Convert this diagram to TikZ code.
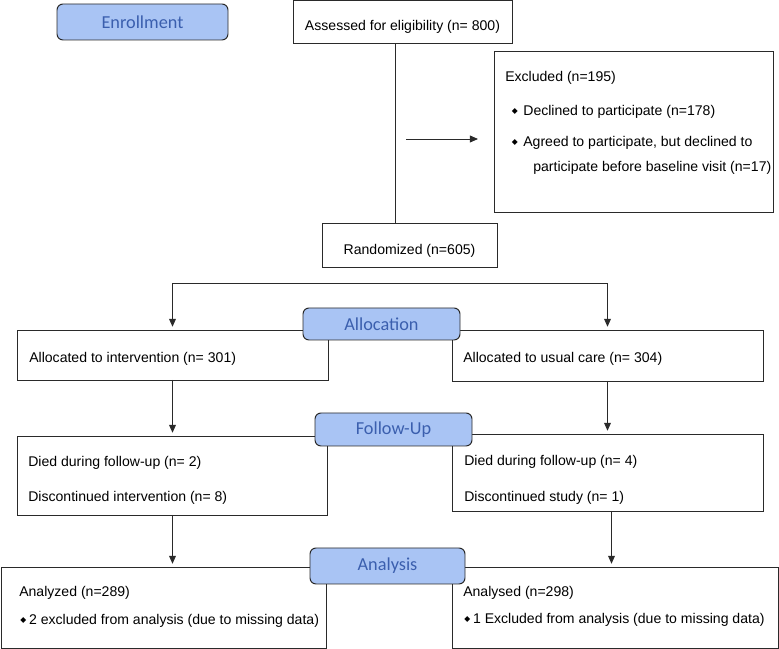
\documentclass[tikz,border=0pt]{standalone}
\usepackage{fontspec}
\setmainfont{Liberation Sans}
\newfontfamily\phasefont{Carlito}
\newfontfamily\symfont{DejaVu Sans}
\usetikzlibrary{arrows.meta}
\definecolor{phasefill}{HTML}{A9C4F4}
\definecolor{phasetext}{HTML}{3B5FAE}
\definecolor{edge}{HTML}{2A2A2A}
\newcommand{\dmd}{\raisebox{1.8pt}{\symfont\fontsize{5.5}{5.5}\selectfont\char"25C6}}

\tikzset{
  box/.style 2 args={draw=edge, line width=0.7pt, outer sep=0pt, inner sep=0pt,
    minimum width=#1*0.025cm, minimum height=#2*0.025cm},
  phase/.style 2 args={box={#1}{#2}, rounded corners=0.15cm, fill=phasefill,
    text=phasetext, font=\phasefont\fontsize{13pt}{15pt}\selectfont},
  txt/.style={inner sep=0pt, anchor=west, font=\fontsize{10pt}{12pt}\selectfont},
  link/.style={draw=edge, line width=0.7pt},
  arr/.style={link, -{Triangle[length=0.2cm,width=0.17cm]}, shorten >=0.08cm},
}

\begin{document}
\begin{tikzpicture}[x=0.025cm, y=-0.025cm]
\useasboundingbox (0,0) rectangle (779,649);

% Enrollment
\node[box={219}{42.5}] (assess) at (402.5,21.8) {};
\node[txt, anchor=center] (assesst) at (402.5,27) {Assessed for eligibility (n= 800)};

\node[box={279}{161}] (excl) at (633.5,131.5) {};
\node[txt] (exclt) at (505,78) {Excluded (n=195)};
\node[txt] (exclb) at (511.5,112) {\dmd\hspace{4pt}Declined to participate (n=178)};
\node[txt] (exclc) at (511.5,143) {\dmd\hspace{4pt}Agreed to participate, but declined to};
\node[txt] (excld) at (533,168) {participate before baseline visit (n=17)};

\node[box={175}{44}] (rand) at (409.5,245) {};
\node[txt, anchor=center] (randt) at (409.5,251) {Randomized (n=605)};

\draw[link] ([xshift=-0.1875cm]assess.south) -- ([xshift=-0.1875cm]assess.south |- rand.north);
\coordinate (tap) at (395,139);
\draw[arr, shorten <=0.275cm, shorten >=0.4cm] (tap) -- (tap -| excl.west);

% Allocation
\coordinate (split) at (395,283);
\node[box={311}{50}] (intv) at (172.5,355) {};
\node[txt] (intvt) at (29,359) {Allocated to intervention (n= 301)};
\node[box={311}{51}] (usual) at (607.5,355.5) {};
\node[txt] (usualt) at (463,359) {Allocated to usual care (n= 304)};
\draw[arr] (split) -| (intv.north);
\draw[arr] (split) -| (usual.north);

% Follow-up
\node[box={310}{79}] (fu1) at (172.5,475.5) {};
\node[txt] (fu1a) at (28,463) {Died during follow-up (n= 2)};
\node[txt] (fu1b) at (28,498) {Discontinued intervention (n= 8)};
\node[box={311}{77}] (fu2) at (607.5,472.5) {};
\node[txt] (fu2a) at (464,462) {Died during follow-up (n= 4)};
\node[txt] (fu2b) at (464,498) {Discontinued study (n= 1)};
\draw[arr] (intv.south) -- (intv.south |- fu1.north);
\draw[arr] (usual.south) -- (usual.south |- fu2.north);

% Analysis
\node[box={325}{81}] (an1) at (163.5,607.5) {};
\node[txt] (an1a) at (19,593) {Analyzed (n=289)};
\node[txt] (an1b) at (20,621) {\dmd\hspace{2pt}2 excluded from analysis (due to missing data)};
\node[box={326}{81}] (an2) at (615,607.5) {};
\node[txt] (an2a) at (463,593) {Analysed (n=298)};
\node[txt] (an2b) at (464,620) {\dmd\hspace{2pt}1 Excluded from analysis (due to missing data)};
\draw[arr] (fu1.south) -- (fu1.south |- an1.north);
\draw[arr] ([xshift=0.1cm]fu2.south) -- ([xshift=0.1cm]fu2.south |- an2.north);

% Phase labels
\node[phase={171}{36}] (enroll) at (142.5,22) {Enrollment};
\node[phase={157}{32}] (alloc) at (381.5,324) {Allocation};
\node[phase={157}{33}] (fuphase) at (393.5,429.5) {Follow-Up};
\node[phase={155}{36}] (anphase) at (387.5,566) {Analysis};
\end{tikzpicture}
\end{document}
